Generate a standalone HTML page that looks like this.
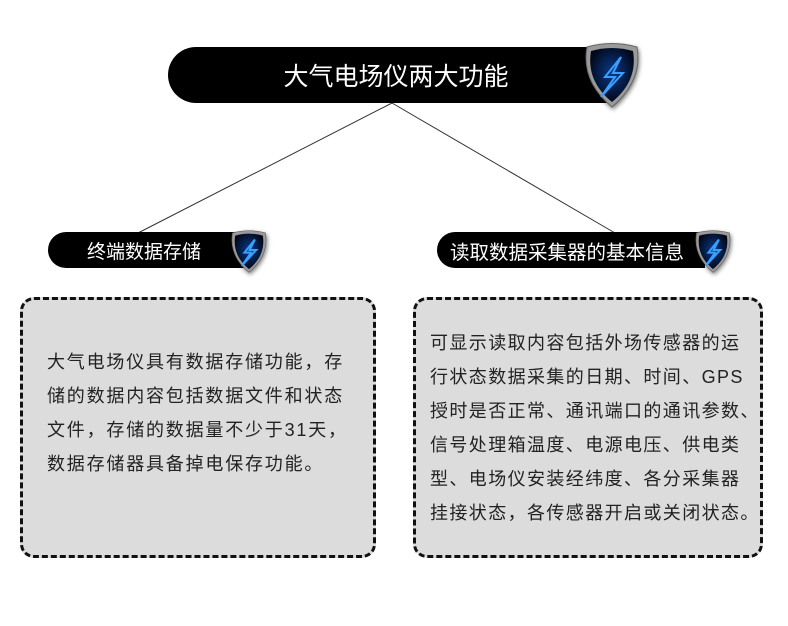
<!DOCTYPE html>
<html><head><meta charset="utf-8"><style>
body{margin:0;width:788px;height:626px;background:#fff;position:relative;overflow:hidden;font-family:"Liberation Sans","Noto Sans CJK SC",sans-serif}
.bar{position:absolute;background:#000;color:#fff;border-radius:28px 0 0 28px;display:flex;align-items:center;justify-content:center;box-sizing:border-box}
.box{position:absolute;background:#dcdcdc;border:3px dashed #111;border-radius:14px;box-sizing:border-box}
.t{position:absolute;color:#222;white-space:nowrap;line-height:34px}
svg.sh{position:absolute;filter:drop-shadow(1px 2px 2px rgba(0,0,0,.5))}
</style></head><body>
<svg width="788" height="626" style="position:absolute;left:0;top:0">
<defs><radialGradient id="g" cx="50%" cy="45%" r="55%"><stop offset="0" stop-color="#0a3a8a"/><stop offset="1" stop-color="#020818"/></radialGradient></defs>
<line x1="392" y1="103" x2="138" y2="233" stroke="#333" stroke-width="1"/>
<line x1="392" y1="103" x2="615" y2="233" stroke="#333" stroke-width="1"/>
</svg>
<div class="bar" style="left:168px;top:47px;width:440px;height:56px;font-size:25px;padding-left:16px">大气电场仪两大功能</div>
<div class="bar" style="left:48px;top:232px;width:200px;height:36px;font-size:19px;border-radius:18px 0 0 18px;padding-right:8px">终端数据存储</div>
<div class="bar" style="left:437px;top:232px;width:268px;height:36px;font-size:19.5px;border-radius:18px 0 0 18px;padding-right:8px">读取数据采集器的基本信息</div>

<svg class="sh" style="left:577px;top:41px" width="70" height="70" viewBox="0 0 70 70">
<path d="M10 6 Q35 -1 60 6 Q66 40 35 66 Q4 40 10 6Z" fill="#9a9a9a" stroke="#666"/>
<path d="M14 10 Q35 4 56 10 Q61 40 35 61 Q9 40 14 10Z" fill="url(#g)"/>
<path d="M44 16 L28 36 L38 36 L24 56 L46 32 L36 32 L44 16Z" fill="none" stroke="#39a0ff" stroke-width="2"/>
</svg>
<svg class="sh" style="left:226px;top:226px" width="46" height="52" viewBox="0 0 70 70">
<path d="M10 6 Q35 -1 60 6 Q66 40 35 66 Q4 40 10 6Z" fill="#9a9a9a" stroke="#666"/>
<path d="M14 10 Q35 4 56 10 Q61 40 35 61 Q9 40 14 10Z" fill="url(#g)"/>
<path d="M44 16 L28 36 L38 36 L24 56 L46 32 L36 32 L44 16Z" fill="none" stroke="#39a0ff" stroke-width="3"/>
</svg>
<svg class="sh" style="left:690px;top:226px" width="46" height="52" viewBox="0 0 70 70">
<path d="M10 6 Q35 -1 60 6 Q66 40 35 66 Q4 40 10 6Z" fill="#9a9a9a" stroke="#666"/>
<path d="M14 10 Q35 4 56 10 Q61 40 35 61 Q9 40 14 10Z" fill="url(#g)"/>
<path d="M44 16 L28 36 L38 36 L24 56 L46 32 L36 32 L44 16Z" fill="none" stroke="#39a0ff" stroke-width="3"/>
</svg>

<div class="box" style="left:20px;top:297px;width:356px;height:261px"></div>
<div class="box" style="left:413px;top:297px;width:350px;height:261px"></div>
<div class="t" style="left:47px;top:345px;font-size:18px;letter-spacing:1.8px">大气电场仪具有数据存储功能，存<br>储的数据内容包括数据文件和状态<br>文件，存储的数据量不少于31天，<br>数据存储器具备掉电保存功能。</div>
<div class="t" style="left:430px;top:326px;font-size:18px;letter-spacing:1.4px">可显示读取内容包括外场传感器的运<br>行状态数据采集的日期、时间、GPS<br>授时是否正常、通讯端口的通讯参数、<br>信号处理箱温度、电源电压、供电类<br>型、电场仪安装经纬度、各分采集器<br>挂接状态，各传感器开启或关闭状态。</div>
</body></html>
